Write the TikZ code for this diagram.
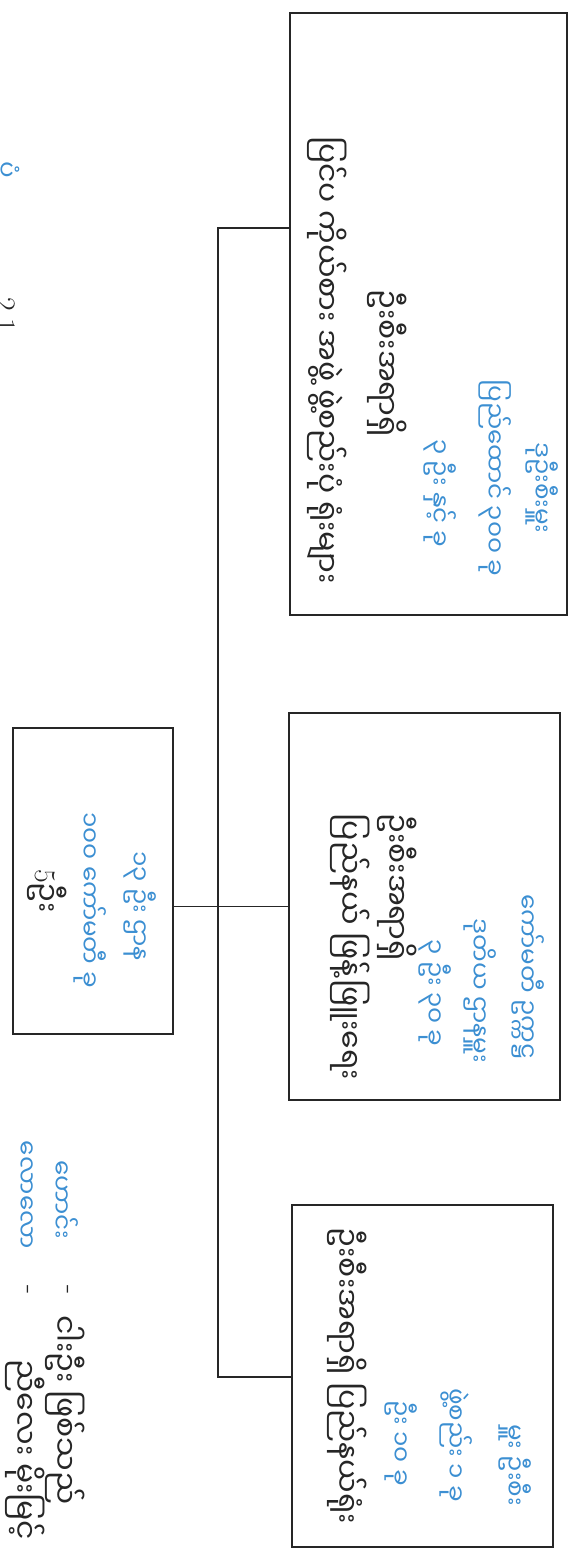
\documentclass[tikz,border=0pt]{standalone}
\usepackage{fontspec}
\usepackage{tikz}
\usetikzlibrary{positioning,calc}
\newfontfamily\mmfont[Script=Myanmar]{Noto Sans Myanmar UI}
\definecolor{penblue}{HTML}{3C8FD2}
\definecolor{penblack}{HTML}{262626}

\begin{document}
\begin{tikzpicture}[x=0.02cm, y=-0.02cm,
  unit/.style={draw=penblack, line width=0.9pt, inner sep=0pt},
  mmblack/.style={rotate=-90, inner sep=0pt, text=penblack, font=\mmfont\fontsize{17}{19}\selectfont},
  mmblue/.style={rotate=-90, inner sep=0pt, text=penblue, font=\mmfont\fontsize{14}{16}\selectfont},
  link/.style={draw=penblack, line width=0.8pt},
]
\useasboundingbox (0,0) rectangle (573,1564);

% the three units and the head box
\node[unit, minimum width=5.54cm, minimum height=12.04cm] (dept1) at (428.5,314) {};
\node[unit, minimum width=5.42cm, minimum height=7.74cm] (dept2) at (424.5,906.5) {};
\node[unit, minimum width=5.22cm, minimum height=6.84cm] (dept3) at (422.5,1376) {};
\node[unit, minimum width=3.2cm, minimum height=6.12cm] (head) at (93,881) {};

% connectors
\coordinate (trunktop) at (218,228);
\coordinate (trunkbot) at (218,1377);
\draw[link] (dept1.west |- trunktop) -- (trunktop) -- (trunkbot) -- (dept3.west |- trunkbot);
\draw[link] (head.east |- dept2.west) -- (dept2.west);

% unit 1
\node[mmblue] (d1note1) at (542,488) {ဒုဦးစီးမှူး};
\node[mmblue] (d1note2) at (495,478) {ပြည်ထောင် ၃၀၀ ခု};
\node[mmblue] (d1note3) at (440,493) {၃ ဦး နှင့် ခု};
\node[mmblack] (d1title) at (387,363) {ဦးစီးအရာရှိ};
\node[mmblack] (d1text) at (327,360) {ပြင်ပ ကိုယ်စား အဖွဲ့ ဖွဲ့စည်းပုံ ရုံးများ};

% unit 2
\node[mmblue] (d2note1) at (528,977) {ကော်မတီ ဥက္ကဋ္ဌ};
\node[mmblue] (d2note2) at (480,991) {ဒုတိယ ဌာနမှူး};
\node[mmblue] (d2note3) at (435,993) {၃ ဦး ၃၀ ခု};
\node[mmblack] (d2title) at (397,887) {ဦးစီးအရာရှိ};
\node[mmblack] (d2text) at (350,947) {ပြည်နယ် ဖြန့်ဖြူးရေး};

% unit 3
\node[mmblue] (d3note1) at (515,1465) {မှူး ဦးစီး};
\node[mmblue] (d3note2) at (456,1445) {ဖွဲ့စည်း ၁ ခု};
\node[mmblue] (d3note3) at (401,1443) {ဦး ၁၀ ခု};
\node[mmblack] (d3text) at (347,1376) {ဦးစီးအရာရှိ ပြည်နယ်ရုံး};

% head
\node[mmblue] (hnote1) at (140,906) {၁၃ ဦး ဌာန};
\node[mmblue] (hnote2) at (90,900) {၁၀၀ ကော်မတီ ခု};
\node[mmblack] (hcount) at (47,891) {{\rmfamily 5}ဦး};

% key
\node[mmblue] (keyA) at (65,1200) {ဟောင်း};
\node[mmblack] (keyAdash) at (65,1290) {{\rmfamily -}};
\node[mmblack] (keyAtext) at (65,1410) {ငါးဦး ဖြစ်သည်};
\node[mmblue] (keyB) at (25,1195) {လောလော};
\node[mmblack] (keyBdash) at (25,1290) {{\rmfamily -}};
\node[mmblack] (keyBtext) at (25,1450) {ညီလေး မိုးမြင့်};

% caption, cut by the edge
\node[mmblue] (capA) at (5,170) {ပုံ};
\node[mmblack] (capB) at (5,315) {{\rmfamily 2.1}};
\end{tikzpicture}
\end{document}
